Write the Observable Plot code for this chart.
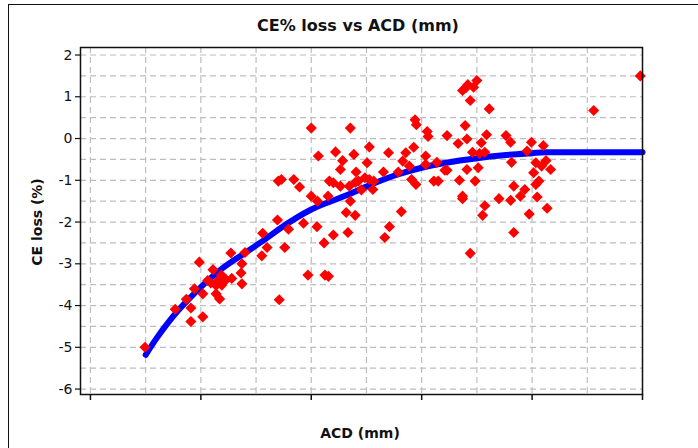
<!DOCTYPE html>
<html><head><meta charset="utf-8">
<script src="https://cdn.jsdelivr.net/npm/d3@7"></script>
<script src="https://cdn.jsdelivr.net/npm/@observablehq/plot@0.6"></script>
<style>
body{margin:0;background:#fff;}
#wrap{position:relative;width:698px;height:448px;overflow:hidden;font-family:"DejaVu Sans",sans-serif;background:#fff;}
#border{position:absolute;left:8px;top:4px;width:800px;height:600px;border-left:1.5px solid #111;border-top:1.5px solid #111;}
#chart{position:absolute;left:0;top:0;}
.lbl{position:absolute;font-weight:bold;color:#111;white-space:nowrap;transform:translate(-50%,-50%);}
</style></head><body>
<div id="wrap"><div id="border"></div><div id="chart"></div>
<div class="lbl" id="title" style="left:358px;top:25px;font-size:16px;">CE% loss vs ACD (mm)</div>
<div class="lbl" id="xlabel" style="left:360px;top:433px;font-size:14px;">ACD (mm)</div>
<div class="lbl" id="ylabel" style="left:37px;top:222px;font-size:14px;transform:translate(-50%,-50%) rotate(-90deg);">CE loss (%)</div>
</div>
<script>
// Measured points: ACD (mm) and CE loss (%)
const acd = [
2.247,2.384,2.434,2.455,2.455,2.471,2.509,2.509,2.493,2.531,2.555,2.569,2.585,2.579,2.593,2.605,2.569,2.545,2.595,2.614,2.640,2.636,2.686,2.682,2.686,2.700,2.780,2.800,2.776,2.847,2.855,
2.851,2.865,2.880,2.897,2.921,2.947,2.965,2.985,3.000,3.000,3.026,3.032,3.028,3.058,3.062,3.078,3.076,3.082,3.100,3.110,3.132,3.142,3.100,3.132,3.158,3.166,3.177,3.172,3.177,3.193,3.199,3.203,3.200,3.213,3.227,3.243,3.253,3.263,3.263,3.279,3.283,3.327,3.333,3.350,3.354,3.394,3.408,3.414,3.428,3.444,3.454,3.464,3.470,3.476,3.474,3.518,3.518,3.525,3.529,3.555,3.569,3.575,3.605,3.615,3.615,3.665,3.671,3.685,3.685,
3.685,3.701,3.709,3.697,3.705,3.705,3.720,3.720,3.730,3.735,3.742,3.750,3.756,3.762,3.770,3.776,3.786,3.786,3.794,3.806,3.850,3.882,3.903,3.907,3.903,3.917,3.917,3.947,3.967,3.977,3.987,3.997,4.007,4.017,4.017,4.023,4.031,4.043,4.051,4.063,4.068,4.084,4.279,4.490];
const ceLoss = [
-5.00,-4.09,-3.85,-4.06,-4.38,-3.60,-4.27,-3.72,-2.96,-3.40,-3.14,-3.72,-3.84,-3.40,-3.27,-3.40,-3.52,-3.46,-3.51,-3.38,-3.35,-2.74,-3.48,-3.22,-3.00,-2.73,-2.27,-2.61,-2.81,-1.95,-3.86,
-1.02,-0.98,-2.61,-2.17,-0.98,-1.16,-2.03,-3.27,0.25,-1.38,-2.11,-0.42,-1.50,-2.50,-3.27,-3.30,-1.38,-1.02,-1.06,-0.32,-0.74,-0.53,-2.31,-1.14,-1.77,-2.25,0.25,-1.14,-1.50,-0.38,-1.84,-0.80,-1.05,-1.02,-1.23,-0.94,-0.58,-0.20,-0.98,-1.22,-1.02,-0.80,-2.37,-0.34,-2.11,-0.80,-1.75,-0.54,-0.34,-0.66,-0.98,-0.21,0.45,0.33,-1.10,-0.42,-0.62,0.17,0.05,-1.02,-0.57,-1.02,-0.76,0.07,-0.76,-0.12,-1.00,-1.38,-1.44,
1.15,1.22,1.29,0.31,-0.01,-0.74,0.91,-2.75,-0.33,1.23,-1.02,1.39,-0.70,-0.36,-0.10,-1.84,-1.61,-0.33,0.09,0.71,-1.44,0.07,-0.09,-0.57,-1.48,-1.14,-2.25,-1.38,-1.22,-0.30,-1.81,-0.09,-0.82,-0.58,-1.10,-1.40,-1.02,-0.66,-0.17,-0.53,-1.67,-0.74,0.67,1.50];

// Fitted curve
const fitAcd  = [2.25, 2.30, 2.35, 2.40, 2.45, 2.50, 2.60, 2.70, 2.80, 2.86, 3.00, 3.16, 3.25, 3.38, 3.50, 3.61, 3.75, 3.87, 4.00, 4.06, 4.50];
const fitLoss = [-5.18,-4.78,-4.42,-4.10,-3.82,-3.56,-3.10,-2.74,-2.38,-2.15,-1.70,-1.36,-1.15,-0.88,-0.70,-0.58,-0.47,-0.40,-0.35,-0.33,-0.33];

// Axis ticks and grid
const xTicks = [2, 2.5, 3, 3.5, 4, 4.5];
const xGrid = [2, 2.25, 2.5, 2.75, 3, 3.25, 3.5, 3.75, 4, 4.25, 4.5];
const yTicks = [2, 1, 0, -1, -2, -3, -4, -5, -6];
const yGrid = [2, 1.5, 1, 0.5, 0, -0.5, -1, -1.5, -2, -2.5, -3, -3.5, -4, -4.5, -5, -5.5, -6];

const points = acd.map((x, i) => ({x, y: ceLoss[i]}));
const fit = fitAcd.map((x, i) => ({x, y: fitLoss[i]}));
const gridStyle = {stroke: "#bdbdbd", strokeOpacity: 1, strokeDasharray: "6,4", strokeWidth: 1.2};

const chart = Plot.plot({
  width: 698, height: 448,
  marginLeft: 80, marginRight: 56, marginTop: 47, marginBottom: 54,
  style: {fontFamily: "DejaVu Sans, sans-serif", fontSize: "14px", color: "#111", background: "transparent"},
  x: {domain: [1.955, 4.5]},
  y: {domain: [-6.13, 2.18]},
  marks: [
    Plot.gridX(xGrid, gridStyle),
    Plot.gridY(yGrid, gridStyle),
    Plot.axisX(xTicks, {tickSize: 6, tickFormat: () => "", label: null, strokeWidth: 1.5}),
    Plot.axisY(yTicks, {tickSize: 5, tickPadding: 3, tickFormat: d => String(d), label: null, strokeWidth: 1.2}),
    Plot.line(fit, {x: "x", y: "y", stroke: "#0000ff", strokeWidth: 6, curve: "monotone-x"}),
    Plot.dot(points, {x: "x", y: "y", symbol: "diamond2", r: 5, fill: "#ff0000", stroke: "none"}),
    Plot.frame({stroke: "#111", strokeWidth: 1.5})
  ]
});
document.getElementById("chart").appendChild(chart);
</script>
</body></html>
